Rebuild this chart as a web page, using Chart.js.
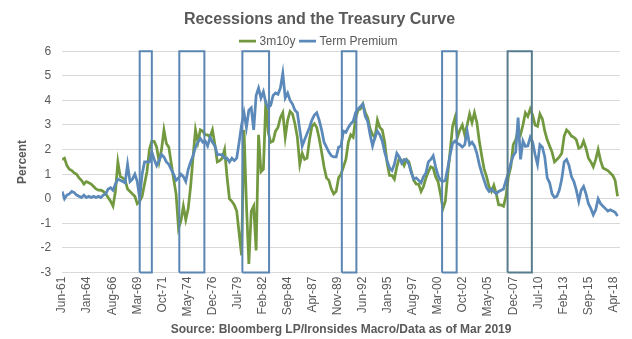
<!DOCTYPE html>
<html>
<head>
<meta charset="utf-8">
<script src="https://cdn.jsdelivr.net/npm/chart.js@4.4.1/dist/chart.umd.min.js"></script>
<style>
  html, body { margin: 0; padding: 0; background: #fff; }
  #wrap { width: 632px; height: 339px; position: relative; }
</style>
</head>
<body>
<div id="wrap"><canvas id="curveChart"></canvas></div>
<script>
// month offsets from Jun-61, one value per quarter
const monthStep = 3;
const tickStep = 31;
const tickLabels = ['Jun-61', 'Jan-64', 'Aug-66', 'Mar-69', 'Oct-71', 'May-74', 'Dec-76', 'Jul-79',
  'Feb-82', 'Sep-84', 'Apr-87', 'Nov-89', 'Jun-92', 'Jan-95', 'Aug-97', 'Mar-00', 'Oct-02',
  'May-05', 'Dec-07', 'Jul-10', 'Feb-13', 'Sep-15', 'Apr-18'];

const spread3m10y = [
  1.6, 1.65, 1.35, 1.2, 1.15, 1.05, 1.0, 0.85, 0.75, 0.6, 0.7, 0.65, 0.6, 0.5, 0.4, 0.35, 0.35, 0.3, 0.2,
  0.05, -0.1, -0.3, 0.3, 1.5, 0.9, 0.85, 0.75, 0.4, 0.3, 0.2, 0.1, -0.2, -0.1, 0.1, 0.6, 1.1, 2.0, 2.35,
  2.33, 2.1, 1.5, 2.0, 2.8, 2.25, 2.1, 1.45, 0.8, 0.2, -1.2, -0.9, -0.3, -0.85, -0.4, 0.5, 1.7, 2.8,
  2.3, 2.8, 2.75, 2.6, 2.6, 2.5, 2.8, 2.2, 1.5, 1.55, 1.65, 2.0, 0.9, 0.0, -0.1, -0.25, -0.5, -1.4,
  -2.3, 2.8, -0.2, -2.65, -0.5, -0.3, -2.1, 2.6, 1.1, 1.2, 4.0, 2.7, 2.3, 2.35, 2.75, 2.9, 3.3, 3.5,
  2.5, 3.2, 3.55, 3.45, 3.05, 2.5, 1.4, 1.85, 1.6, 1.65, 2.4, 2.95, 3.05, 2.9, 2.45, 1.9, 1.3, 0.85,
  0.75, 0.4, 0.2,
  0.3, 0.85, 1.0, 1.3, 1.6, 2.3, 2.6, 2.5, 3.25, 3.6, 3.65, 3.85, 3.5, 3.3, 2.85, 2.6, 2.5, 3.2, 2.9,
  2.8, 2.3, 1.45, 0.95, 0.95, 0.8, 1.3, 1.65, 1.55, 1.35, 1.6, 1.5, 1.1, 0.75, 0.6, 0.6, 0.3, 0.5,
  0.85, 1.1, 1.3, 1.25, 0.9, 0.7, 0.2, -0.4, -0.1, 1.0, 1.95, 2.95, 3.3, 2.5, 2.8, 3.0, 2.6, 3.0, 3.45,
  3.1, 3.5, 3.1, 2.35, 1.75, 1.2, 0.9, 0.5, 0.3, 0.55, 0.2, -0.25, -0.25, -0.3, 0.1, 0.9, 1.3, 2.2, 2.4,
  2.8, 2.6, 3.0, 3.5, 3.35, 3.65, 3.4, 3.0, 2.95, 3.45, 3.25, 2.75, 2.4, 2.15, 1.9, 1.5, 1.6, 1.7, 1.85,
  2.55, 2.8, 2.7, 2.55, 2.5, 2.4, 2.05, 2.1, 2.35, 2.05, 1.65, 1.5, 1.3, 1.6, 2.0, 1.55, 1.25, 1.2,
  1.15, 1.05, 0.95, 0.75, 0.1
];

const termPremium = [
  0.3, 0.0, 0.15, 0.2, 0.3, 0.25, 0.15, 0.1, 0.05, 0.15, 0.05, 0.1, 0.05, 0.1, 0.05, 0.1, 0.05, 0.15,
  0.2, 0.4, 0.45, 0.35, 0.6, 0.8, 0.75, 0.7, 0.65, 1.4, 0.7, 0.8, 1.0, 0.7, 0.0, 1.0, 1.5, 1.5, 1.5, 1.9,
  1.6, 1.35, 1.55, 1.8, 1.7, 1.5, 1.4, 1.2, 1.0, 0.75, 0.85, 1.0, 0.9, 0.7, 1.2, 1.5, 1.75, 2.1, 2.3,
  2.45, 2.3, 2.35, 2.15, 2.5, 2.3, 2.15, 1.8, 1.8, 1.8, 1.65, 1.65, 1.5, 1.65, 1.55, 1.65, 2.3,
  3.0, 3.5, 2.9, 3.6, 3.7, 2.8, 4.2, 4.5, 4.1, 4.35, 3.9, 3.7, 3.8, 4.2, 4.3, 4.25, 4.5, 5.1, 4.1, 4.3,
  4.0, 3.85, 3.6, 3.5, 2.8, 2.15, 2.4, 2.65, 2.9, 3.2, 3.4, 3.5, 3.2, 2.8, 2.3, 2.1, 1.9, 1.75, 1.7,
  1.7, 2.1, 2.15, 2.75, 2.7, 2.9, 3.05, 3.15, 3.5, 3.65, 3.75, 3.85, 3.35, 3.15, 2.6, 2.15, 2.5, 2.75,
  2.6, 2.35, 1.9, 1.55, 1.25, 1.15, 1.4, 1.85, 1.7, 1.45, 1.6, 1.58, 1.4, 1.05, 0.8, 0.85, 0.75, 0.65,
  0.9,
  1.05, 1.5, 1.6, 1.75, 1.3, 0.95, 0.75, 0.7, 0.75, 1.25, 1.8, 2.25, 2.35, 2.25, 2.2, 2.1, 2.2, 2.75,
  2.2, 2.3, 2.15, 1.85, 1.4, 1.05, 0.75, 0.45, 0.3, 0.4, 0.3, 0.2, 0.3, 0.35, 0.4, 0.75, 1.05, 1.45,
  1.75, 1.9,
  3.3, 1.6, 2.35, 2.13, 2.15, 2.5, 2.3, 1.8, 1.4, 2.2, 2.1, 1.7, 0.85, 0.65, 0.2, 0.05, 0.1, 0.35, 0.8,
  1.5, 1.6, 1.35, 0.9, 0.7, 0.35, -0.1, 0.35, 0.5, 0.2, -0.2, -0.4, -0.65, -0.45, 0.0, -0.2, -0.3, -0.4,
  -0.5, -0.45, -0.5, -0.55, -0.7
];

// recession boxes, in months from Jun-61
const recessionStarts = [96, 145, 223, 346, 470, 551];
const recessionEnds = [111, 176, 256, 364, 488, 581];
const recessionColors = ['#5b86b3', '#5b86b3', '#5b86b3', '#5b86b3', '#5b86b3', '#587c8e'];

const yMin = -3;
const yMax = 6;
const xMax = 690;

function toPoints(values) {
  return values.map((v, i) => ({ x: i * monthStep, y: v }));
}

function recessionDatasets() {
  return recessionStarts.map((start, i) => {
    const end = recessionEnds[i];
    return {
      label: 'recession',
      data: [
        { x: start, y: yMin }, { x: start, y: yMax },
        { x: end, y: yMax }, { x: end, y: yMin }, { x: start, y: yMin }
      ],
      borderColor: recessionColors[i],
      borderWidth: 2,
      pointRadius: 0,
      fill: false,
      order: 0,
      clip: 4
    };
  });
}

const chartText = '#595959';

new Chart(document.getElementById('curveChart'), {
  type: 'line',
  data: {
    datasets: [
      {
        label: '3m10y',
        data: toPoints(spread3m10y),
        borderColor: '#72993f',
        backgroundColor: '#72993f',
        borderWidth: 2.75,
        pointRadius: 0,
        order: 2
      },
      {
        label: 'Term Premium',
        data: toPoints(termPremium),
        borderColor: '#5b89b9',
        backgroundColor: '#5b89b9',
        borderWidth: 2.75,
        pointRadius: 0,
        order: 1
      },
      ...recessionDatasets()
    ]
  },
  options: {
    responsive: true,
    maintainAspectRatio: false,
    animation: false,
    layout: { padding: { left: 15, right: 8, top: 0, bottom: 2 } },
    plugins: {
      title: {
        display: true,
        text: 'Recessions and the Treasury Curve',
        color: chartText,
        font: { family: 'Liberation Sans', size: 16, weight: 'bold' },
        padding: { top: 10, bottom: 0 }
      },
      legend: {
        display: true,
        position: 'top',
        maxHeight: 22,
        labels: {
          filter: (item) => item.text !== 'recession',
          sort: (a, b) => a.datasetIndex - b.datasetIndex,
          usePointStyle: true,
          pointStyle: 'line',
          boxWidth: 24,
          color: chartText,
          font: { family: 'Liberation Sans', size: 12, lineHeight: 1 },
          padding: 6
        }
      },
      tooltip: { enabled: false }
    },
    scales: {
      x: {
        type: 'linear',
        min: 0,
        max: xMax,
        grid: { display: false, drawTicks: false },
        border: { color: '#d9d9d9' },
        afterBuildTicks: (axis) => {
          axis.ticks = tickLabels.map((label, i) => ({ value: i * tickStep }));
        },
        ticks: {
          autoSkip: false,
          minRotation: 90,
          maxRotation: 90,
          padding: 4,
          color: chartText,
          font: { family: 'Liberation Sans', size: 12 },
          callback: (value, index) => tickLabels[index]
        },
        title: {
          display: true,
          text: 'Source: Bloomberg LP/Ironsides Macro/Data as of Mar 2019',
          color: chartText,
          font: { family: 'Liberation Sans', size: 12, weight: 'bold' },
          padding: { top: 2, bottom: 0 }
        }
      },
      y: {
        min: yMin,
        max: yMax,
        grid: { color: '#d9d9d9', drawTicks: false },
        border: { display: false },
        ticks: {
          stepSize: 1,
          padding: 11,
          color: chartText,
          font: { family: 'Liberation Sans', size: 12 }
        },
        title: {
          display: true,
          text: 'Percent',
          color: chartText,
          font: { family: 'Liberation Sans', size: 12, weight: 'bold' },
          padding: { top: 0, bottom: 0 }
        }
      }
    }
  }
});
</script>
</body>
</html>
